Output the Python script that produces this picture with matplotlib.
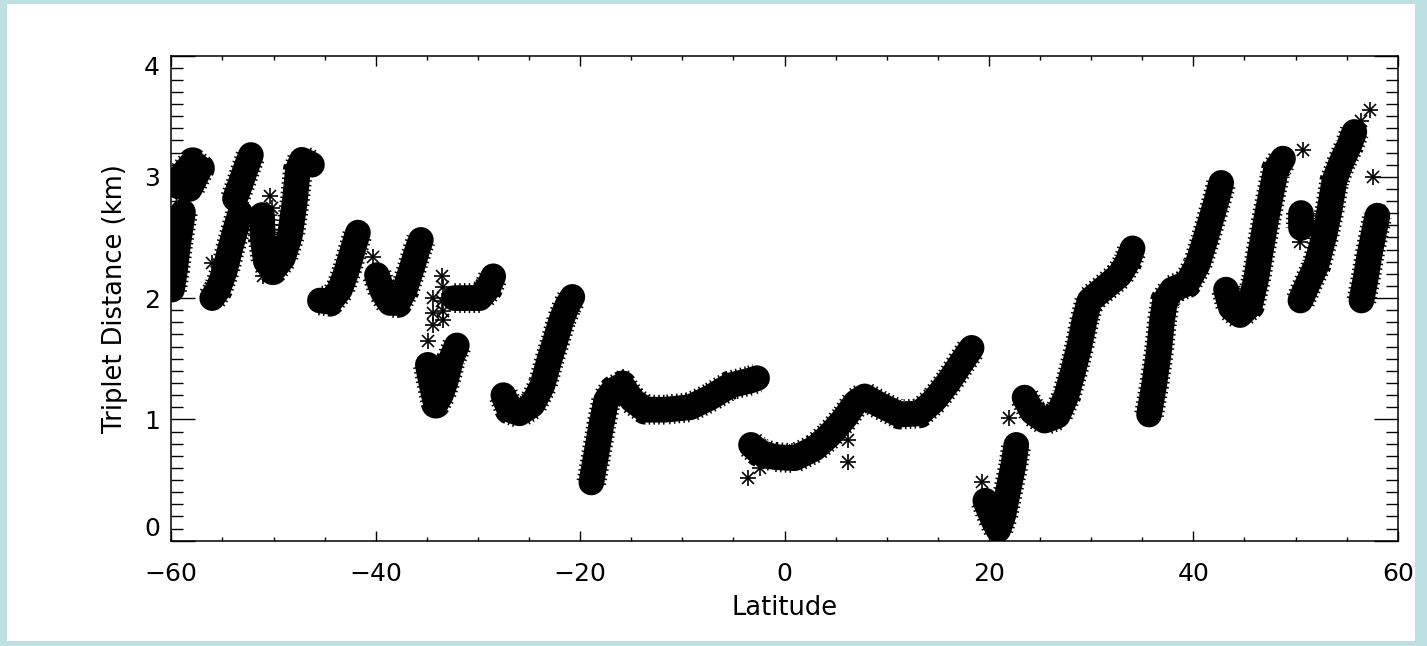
import matplotlib
matplotlib.use("Agg")
import matplotlib.pyplot as plt
from matplotlib.patches import Rectangle
from matplotlib.ticker import MultipleLocator

FRAME = "#bde0e2"
INK = "#000000"

# centre lines of the dense point tracks (latitude, triplet distance km)
lat_01 = [-59.93, -59.64, -59.35, -59.05, -58.86]
km_01 = [2.07, 2.23, 2.44, 2.60, 2.71]
lat_02 = [-59.3, -58.2, -57.2, -57.9, -58.9]
km_02 = [2.92, 2.90, 3.07, 3.12, 3.02]
lat_03 = [-56.0, -55.43, -54.75, -54.26, -53.67, -53.24]
km_03 = [2.00, 2.07, 2.23, 2.40, 2.58, 2.70]
lat_04 = [-53.77, -53.28, -52.70, -52.21]
km_04 = [2.82, 2.93, 3.07, 3.18]
lat_05 = [-51.13, -51.03, -50.74, -50.05, -49.08, -48.39, -47.90, -47.61, -47.22, -46.24]
km_05 = [2.685, 2.48, 2.30, 2.23, 2.33, 2.52, 2.81, 3.06, 3.14, 3.10]
lat_06 = [-45.46, -44.48, -43.50, -42.82, -42.23, -41.74]
km_06 = [1.98, 1.97, 2.07, 2.23, 2.40, 2.54]
lat_07 = [-39.88, -39.30, -38.61, -37.83, -37.15, -36.46, -35.88, -35.58]
km_07 = [2.19, 2.05, 1.96, 1.96, 2.07, 2.25, 2.41, 2.48]
lat_08 = [-32.3, -31.0, -29.8, -29.0, -28.5]
km_08 = [2.00, 2.00, 2.00, 2.08, 2.18]
lat_09 = [-34.90, -34.51, -34.11, -33.63, -33.14, -32.65, -32.06]
km_09 = [1.45, 1.28, 1.13, 1.20, 1.32, 1.49, 1.61]
lat_10 = [-27.51, -26.92, -25.94, -24.67, -23.69, -23.01, -22.42, -21.83, -21.25, -20.76]
km_10 = [1.20, 1.08, 1.05, 1.12, 1.28, 1.49, 1.65, 1.82, 1.94, 2.01]
lat_11 = [-18.90, -18.42, -17.93, -17.44, -16.76, -15.88, -14.90, -13.63, -11.67, -9.23,
          -7.27, -5.32, -3.36, -2.68]
km_11 = [0.48, 0.71, 0.95, 1.16, 1.24, 1.28, 1.16, 1.08, 1.08, 1.10,
         1.18, 1.28, 1.32, 1.34]
lat_12 = [-3.28, -2.50, -1.03, 0.99, 2.95, 4.41, 5.88, 6.96, 7.84, 9.31,
          11.26, 13.22, 14.69, 16.15, 17.33, 18.31]
km_12 = [0.79, 0.73, 0.69, 0.68, 0.76, 0.87, 1.01, 1.14, 1.19, 1.12,
         1.04, 1.05, 1.16, 1.32, 1.47, 1.59]
lat_13 = [19.65, 20.43, 20.92, 21.41, 21.90, 22.39, 22.68]
km_13 = [0.33, 0.17, 0.09, 0.21, 0.42, 0.62, 0.79]
lat_14 = [23.49, 24.27, 25.45, 26.72, 27.60, 28.28, 28.87, 29.36, 29.85, 30.83,
          32.79, 33.57, 34.06]
km_14 = [1.18, 1.06, 0.99, 1.03, 1.20, 1.41, 1.61, 1.82, 1.98, 2.05,
         2.19, 2.30, 2.41]
lat_15 = [35.67, 36.16, 36.65, 36.95, 37.24, 37.93, 39.39, 40.38, 41.16, 41.85, 42.43, 42.73]
km_15 = [1.04, 1.28, 1.57, 1.82, 1.98, 2.07, 2.12, 2.27, 2.48, 2.68, 2.85, 2.95]
lat_16 = [43.20, 43.69, 44.57, 45.55, 46.13, 46.62, 47.11, 47.60, 48.09, 48.78]
km_16 = [2.07, 1.92, 1.86, 1.94, 2.15, 2.40, 2.64, 2.85, 3.06, 3.15]
lat_17 = [50.58, 50.58]
km_17 = [2.70, 2.58]
lat_18 = [50.48, 51.16, 52.04, 52.83, 53.32, 53.81, 54.49, 55.27, 55.76]
km_18 = [1.98, 2.11, 2.27, 2.52, 2.72, 2.97, 3.12, 3.26, 3.37]
lat_19 = [56.45, 56.84, 57.23, 57.72, 58.01]
km_19 = [1.98, 2.15, 2.35, 2.56, 2.68]

# isolated points
out_lat = [-56.0, -51.06, -50.35, -50.18, -40.3, -33.56, -33.40, -34.38, -33.56, -34.41,
           -33.43, -34.41, -33.43, -34.90, -15.82, -3.6, -2.4, 6.2, 6.2, 19.3,
           22.0, 29.2, 50.45, 50.78, 56.06, 56.45, 57.30, 57.55, 58.2]
out_km = [2.29, 2.18, 2.84, 2.74, 2.34, 2.18, 2.09, 2.00, 1.98, 1.88,
          1.89, 1.78, 1.82, 1.65, 1.35, 0.52, 0.60, 0.65, 0.83, 0.48,
          1.01, 1.92, 2.46, 3.22, 3.40, 3.46, 3.55, 3.00, 2.72]

tracks = [(lat_01, km_01), (lat_02, km_02), (lat_03, km_03), (lat_04, km_04),
          (lat_05, km_05), (lat_06, km_06), (lat_07, km_07), (lat_08, km_08),
          (lat_09, km_09), (lat_10, km_10), (lat_11, km_11), (lat_12, km_12),
          (lat_13, km_13), (lat_14, km_14), (lat_15, km_15), (lat_16, km_16),
          (lat_17, km_17), (lat_18, km_18), (lat_19, km_19)]

x_ticks = [-60, -40, -20, 0, 20, 40, 60]
y_ticks = [0, 1, 2, 3, 4]

fig = plt.figure(figsize=(14.27, 6.46), dpi=100)
fig.patch.set_facecolor(FRAME)
fig.patches.append(Rectangle((7 / 1427, 1 - 641 / 646), 1408 / 1427, 637 / 646,
                             transform=fig.transFigure, facecolor="white",
                             edgecolor="none", zorder=-1))

ax = fig.add_axes([171.3 / 1427, 1 - 540.7 / 646, 1226.4 / 1427, 485.2 / 646])
ax.set_facecolor("white")

for la, km in tracks:
    # solid core of the point cloud
    ax.plot(la, km, color=INK, lw=18.5, solid_capstyle="round",
            solid_joinstyle="round", zorder=2)
    # ragged asterisk fringe around it
    ax.plot(la, km, color=INK, lw=21.5, ls=(0, (0.05, 0.11)),
            dash_capstyle="butt", dash_joinstyle="round", zorder=2)
ax.plot(out_lat, out_km, ls="none", marker="+", ms=11, mew=1.2, color=INK, zorder=3)
ax.plot(out_lat, out_km, ls="none", marker="x", ms=8, mew=1.2, color=INK, zorder=3)

ax.set_xlim(-60, 60)
ax.set_ylim(0, 4)
ax.set_xticks(x_ticks)
ax.set_yticks(y_ticks)
ax.xaxis.set_minor_locator(MultipleLocator(5))
ax.yaxis.set_minor_locator(MultipleLocator(0.1))

for s in ax.spines.values():
    s.set_linewidth(1.1)
ax.tick_params(which="both", direction="in", top=True, right=True,
               width=1.0, colors=INK, labelsize=18)
ax.tick_params(axis="x", which="major", length=7.2, pad=15)
ax.tick_params(axis="x", which="minor", length=3.2)
ax.tick_params(axis="y", which="major", length=17.6, pad=8)
ax.tick_params(axis="y", which="minor", length=8.8)

ylabels = ax.get_yticklabels()
ylabels[0].set_va("bottom")
ylabels[-1].set_va("top")

ax.set_xlabel("Latitude", fontsize=18.5)
ax.set_ylabel("Triplet Distance (km)", fontsize=18.5)
ax.xaxis.set_label_coords(0.5, -0.112)
ax.yaxis.set_label_coords(-0.0353, 0.5)

fig.savefig("out.png", dpi=100, facecolor=FRAME)
